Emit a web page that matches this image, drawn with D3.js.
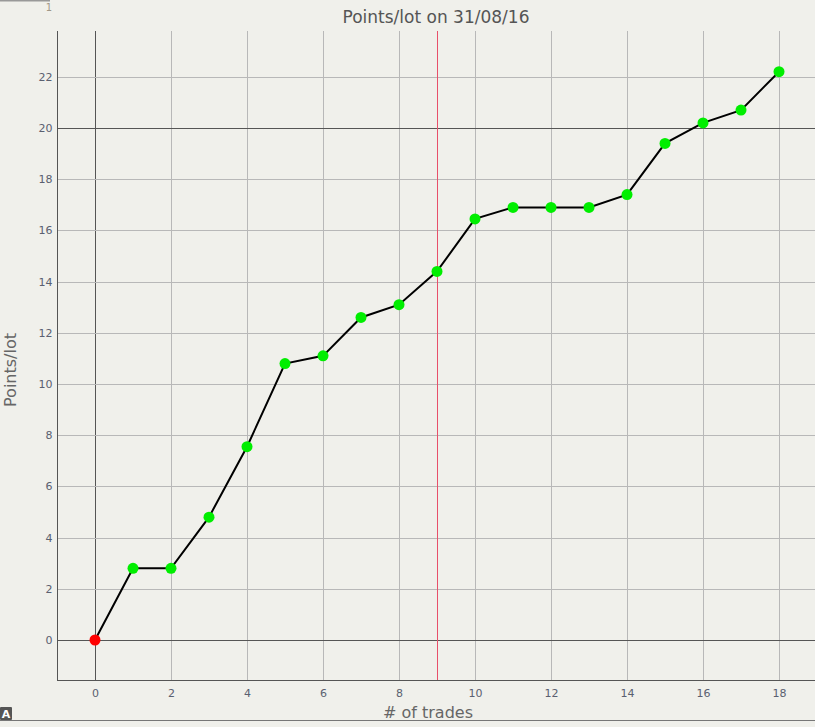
<!DOCTYPE html>
<html><head><meta charset="utf-8">
<script src="https://cdn.jsdelivr.net/npm/d3@7"></script>
<style>html,body{margin:0;padding:0;background:#f0f0eb;}svg{display:block;}</style>
</head><body><svg id="c" width="815" height="727"></svg>
<script>
const trades = [0,1,2,3,4,5,6,7,8,9,10,11,12,13,14,15,16,17,18];
const points = [0,2.8,2.8,4.8,7.55,10.8,11.1,12.6,13.1,14.4,16.45,16.9,16.9,16.9,17.4,19.4,20.2,20.7,22.2];
const xTicks = [0,2,4,6,8,10,12,14,16,18];
const yTicks = [0,2,4,6,8,10,12,14,16,18,20,22];
const title = "Points/lot on 31/08/16";
const xLabel = "# of trades";
const yLabel = "Points/lot";
const markerX = 9;
const darkY = [0,20];

(function(){
const svg = d3.select("#c");
const W=815,H=727;
const pL=57,pR=815,pT=31,pB=680;
const x = d3.scaleLinear().domain([-1,18.947]).range([pL,pR]);
const y = d3.scaleLinear().domain([-1.5625,23.79]).range([pB,pT]);
const font = "Tahoma, 'DejaVu Sans', Verdana, sans-serif";

svg.append("rect").attr("width",W).attr("height",H).attr("fill","#f0f0eb");

// decorations
svg.append("rect").attr("x",0).attr("y",0).attr("width",50).attr("height",1.5).attr("fill","#999");
svg.append("text").attr("x",49).attr("y",11).attr("text-anchor","middle").attr("font-family",font).attr("font-size",10).attr("fill","#a09888").text("1");
svg.append("line").attr("x1",0).attr("x2",W).attr("y1",720.5).attr("y2",720.5).attr("stroke","#777").attr("stroke-width",1);
const ab = svg.append("g");
ab.append("rect").attr("x",0).attr("y",707).attr("width",12).attr("height",13).attr("fill","#555").attr("rx",1);
ab.append("text").attr("x",6).attr("y",718).attr("text-anchor","middle").attr("font-family",font).attr("font-weight","bold").attr("font-size",11).attr("fill","#fff").text("A");

// grid
const g = svg.append("g");
g.selectAll(".vg").data(xTicks).join("line")
  .attr("x1",d=>Math.round(x(d))+0.5).attr("x2",d=>Math.round(x(d))+0.5)
  .attr("y1",pT).attr("y2",pB)
  .attr("stroke",d=>d===0?"#555":"#b8b8b8").attr("stroke-width",1);
g.selectAll(".hg").data(yTicks).join("line")
  .attr("y1",d=>Math.round(y(d))+0.5).attr("y2",d=>Math.round(y(d))+0.5)
  .attr("x1",pL).attr("x2",pR)
  .attr("stroke",d=>darkY.includes(d)?"#555":"#b8b8b8").attr("stroke-width",1);
g.append("line").attr("x1",Math.round(x(markerX))+0.5).attr("x2",Math.round(x(markerX))+0.5)
  .attr("y1",pT).attr("y2",pB).attr("stroke","#e8506a").attr("stroke-width",1);

// axes
const xa = svg.append("g").attr("transform",`translate(0,${pB+0.5})`)
  .call(d3.axisBottom(x).tickValues(xTicks).tickSize(0).tickPadding(9).tickFormat(d3.format("d")));
xa.select(".domain").attr("stroke","#555").attr("d",`M${pL},0H${pR}`);
const ya = svg.append("g").attr("transform",`translate(${pL+0.5},0)`)
  .call(d3.axisLeft(y).tickValues(yTicks).tickSize(0).tickPadding(5).tickFormat(d3.format("d")));
ya.select(".domain").attr("stroke","#555").attr("d",`M0,${pT}V${pB}`);
svg.selectAll(".tick text").attr("font-family",font).attr("font-size",11).attr("fill","#5a6070");

// line
svg.append("path").datum(trades.map((t,i)=>[t,points[i]]))
  .attr("d",d3.line().x(d=>x(d[0])).y(d=>y(d[1])))
  .attr("fill","none").attr("stroke","#000").attr("stroke-width",2);
svg.selectAll(".pt").data(trades).join("circle")
  .attr("cx",d=>x(d)).attr("cy",(d,i)=>y(points[i])).attr("r",5.5)
  .attr("fill",(d,i)=>i===0?"#ff0000":"#00ee00");

// titles
svg.append("text").attr("x",436).attr("y",23).attr("text-anchor","middle").attr("font-family",font).attr("font-size",17).attr("fill","#555").text(title);
svg.append("text").attr("x",428).attr("y",718).attr("text-anchor","middle").attr("font-family",font).attr("font-size",16).attr("fill","#666").text(xLabel);
svg.append("text").attr("transform","translate(16,370) rotate(-90)").attr("text-anchor","middle").attr("font-family",font).attr("font-size",16).attr("fill","#666").text(yLabel);
})();
</script></body></html>
